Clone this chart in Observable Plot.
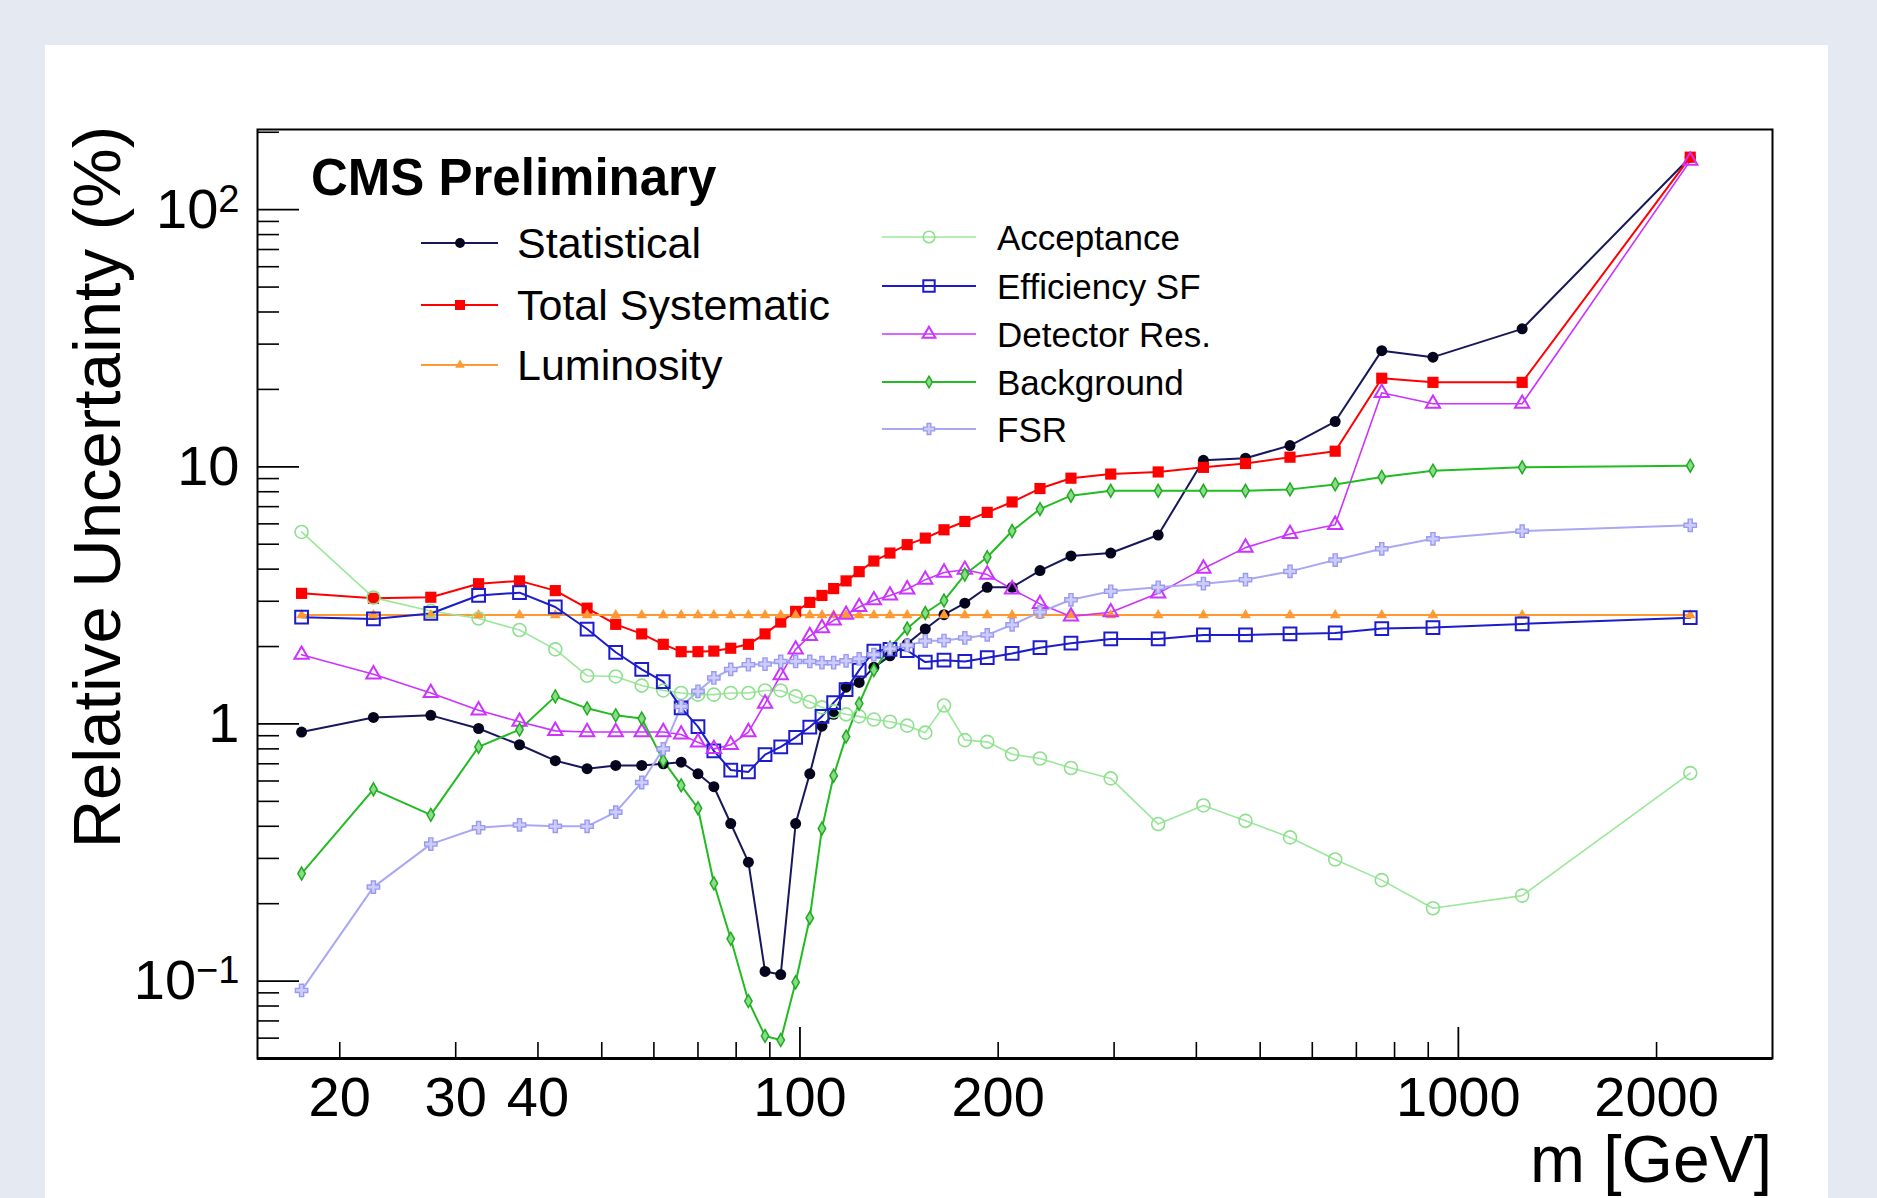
<!DOCTYPE html>
<html>
<head>
<meta charset="utf-8">
<script src="https://cdn.jsdelivr.net/npm/d3@7"></script>
<script src="https://cdn.jsdelivr.net/npm/@observablehq/plot@0.6"></script>
<style>
  html, body { margin: 0; padding: 0; width: 1877px; height: 1198px; overflow: hidden; background: #e4e9f2; }
  #card { position: absolute; left: 45px; top: 45px; width: 1783px; height: 1200px; background: #ffffff; }
  #chart { position: absolute; left: 0; top: 0; }
  #overlay { position: absolute; left: 0; top: 0; }
</style>
</head>
<body>
<div id="card"></div>
<div id="chart"></div>
<svg id="overlay" width="1877" height="1198"></svg>
<script>
// ---------------- data ----------------
const mass = [17.5, 22.5, 27.5, 32.5, 37.5, 42.5, 47.5, 52.5, 57.5, 62, 66, 70, 74, 78.5, 83.5, 88.5, 93.5, 98.5, 103.5, 108, 112.5, 117.5, 123, 129.5, 137, 145.5, 155, 165.5, 178, 192.5, 210, 231.5, 258, 296.5, 350, 410, 475, 555, 650, 765, 915, 1250, 2250];

const statistical = [0.93, 1.06, 1.08, 0.96, 0.83, 0.72, 0.67, 0.69, 0.69, 0.70, 0.71, 0.64, 0.57, 0.41, 0.29, 0.109, 0.106, 0.41, 0.64, 0.98, 1.09, 1.39, 1.45, 1.66, 1.84, 2.05, 2.34, 2.66, 2.95, 3.40, 3.40, 3.95, 4.50, 4.62, 5.43, 10.6, 10.8, 12.1, 15.0, 28.3, 26.7, 34.4, 160];
const totalSystematic = [3.22, 3.08, 3.11, 3.51, 3.60, 3.30, 2.82, 2.44, 2.24, 2.04, 1.91, 1.91, 1.92, 1.97, 2.04, 2.24, 2.49, 2.74, 2.97, 3.16, 3.36, 3.60, 3.91, 4.30, 4.62, 4.98, 5.28, 5.69, 6.13, 6.65, 7.30, 8.23, 9.03, 9.37, 9.55, 9.95, 10.3, 10.9, 11.5, 22.1, 21.3, 21.3, 160];
const luminosity = [2.65, 2.65, 2.65, 2.65, 2.65, 2.65, 2.65, 2.65, 2.65, 2.65, 2.65, 2.65, 2.65, 2.65, 2.65, 2.65, 2.65, 2.65, 2.65, 2.65, 2.65, 2.65, 2.65, 2.65, 2.65, 2.65, 2.65, 2.65, 2.65, 2.65, 2.65, 2.65, 2.65, 2.65, 2.65, 2.65, 2.65, 2.65, 2.65, 2.65, 2.65, 2.65, 2.65];
const acceptance = [5.58, 3.1, 2.75, 2.57, 2.32, 1.95, 1.54, 1.53, 1.41, 1.35, 1.32, 1.30, 1.30, 1.32, 1.32, 1.35, 1.35, 1.28, 1.22, 1.16, 1.12, 1.09, 1.07, 1.04, 1.02, 0.985, 0.925, 1.18, 0.865, 0.852, 0.762, 0.734, 0.674, 0.614, 0.408, 0.482, 0.42, 0.362, 0.297, 0.247, 0.192, 0.215, 0.644];
const efficiencySF = [2.60, 2.56, 2.69, 3.16, 3.24, 2.85, 2.34, 1.90, 1.63, 1.46, 1.155, 0.976, 0.786, 0.662, 0.651, 0.76, 0.814, 0.887, 0.973, 1.07, 1.21, 1.36, 1.62, 1.92, 1.95, 1.93, 1.74, 1.77, 1.75, 1.81, 1.88, 1.98, 2.06, 2.14, 2.14, 2.22, 2.22, 2.24, 2.26, 2.35, 2.37, 2.45, 2.59];
const detectorRes = [1.86, 1.56, 1.32, 1.13, 1.02, 0.94, 0.93, 0.93, 0.93, 0.93, 0.91, 0.848, 0.80, 0.83, 0.93, 1.20, 1.55, 1.95, 2.20, 2.36, 2.53, 2.66, 2.85, 3.03, 3.16, 3.34, 3.64, 3.88, 3.98, 3.81, 3.34, 2.93, 2.62, 2.72, 3.22, 4.02, 4.85, 5.48, 5.95, 19.4, 17.6, 17.6, 155];
const background = [0.262, 0.557, 0.443, 0.814, 0.95, 1.28, 1.15, 1.08, 1.05, 0.72, 0.577, 0.47, 0.24, 0.146, 0.0836, 0.0612, 0.059, 0.099, 0.176, 0.392, 0.629, 0.893, 1.20, 1.62, 1.98, 2.35, 2.70, 3.02, 3.81, 4.45, 5.63, 6.85, 7.72, 8.07, 8.07, 8.07, 8.07, 8.17, 8.54, 9.13, 9.66, 9.96, 10.1];
const fsr = [0.092, 0.232, 0.341, 0.395, 0.405, 0.40, 0.40, 0.454, 0.592, 0.80, 1.17, 1.34, 1.51, 1.63, 1.70, 1.71, 1.75, 1.75, 1.75, 1.73, 1.73, 1.76, 1.79, 1.86, 1.96, 2.02, 2.10, 2.11, 2.16, 2.22, 2.43, 2.72, 3.04, 3.28, 3.40, 3.51, 3.64, 3.92, 4.34, 4.80, 5.25, 5.62, 5.92];

const xDomain = [15, 3000];
const yDomain = [0.05, 205];
const xTickLabels = [20, 30, 40, 100, 200, 1000, 2000];
const xMajorTicks = [100, 1000];
const xMinorTicks = [20, 30, 40, 50, 60, 70, 80, 90, 200, 300, 400, 500, 600, 700, 800, 900, 2000];
const yTickLabels = [0.1, 1, 10, 100];
const yMinorTicks = [0.06, 0.07, 0.08, 0.09, 0.2, 0.3, 0.4, 0.5, 0.6, 0.7, 0.8, 0.9, 2, 3, 4, 5, 6, 7, 8, 9, 20, 30, 40, 50, 60, 70, 80, 90, 200];
const yTickText = {0.1: "10^-1", 1: "1", 10: "10", 100: "10^2"};

// ---------------- styles ----------------
const series = [
  {name: "Statistical", values: statistical, line: "#17175c", lw: 2, symbol: "circle", r: 5.5, fill: "#05051e", stroke: "none", sw: 0},
  {name: "Total Systematic", values: totalSystematic, line: "#ff0000", lw: 2, symbol: "square", r: 6.3, fill: "#ff0000", stroke: "none", sw: 0},
  {name: "Luminosity", values: luminosity, line: "#ff9933", lw: 2, symbol: "triangle", r: 4, fill: "#ff9933", stroke: "none", sw: 0},
  {name: "Acceptance", values: acceptance, line: "#9be89b", lw: 1.6, symbol: "circle", r: 6.5, fill: "none", stroke: "#8ee08e", sw: 1.6},
  {name: "Efficiency SF", values: efficiencySF, line: "#1c1ccc", lw: 2, symbol: "square", r: 7.2, fill: "none", stroke: "#1c1ccc", sw: 2},
  {name: "Detector Res.", values: detectorRes, line: "#cc33ff", lw: 1.6, symbol: "triangle", r: 5.3, fill: "none", stroke: "#cc33ff", sw: 2},
  {name: "Background", values: background, line: "#22bb22", lw: 2, symbol: "diamond", r: 3.9, fill: "#88dd88", stroke: "#22aa22", sw: 1.5},
  {name: "FSR", values: fsr, line: "#a8a8f5", lw: 2, symbol: "cross", r: 5.2, fill: "#ccccff", stroke: "#9a9aee", sw: 1.4}
];

const W = 1877, H = 1198;
const mL = 257, mR = 105, mT = 129, mB = 140;
const plotW = W - mL - mR, plotH = H - mT - mB;

const marks = [];
for (const s of series) {
  const rows = mass.map((m, i) => ({m, v: s.values[i]}));
  marks.push(Plot.line(rows, {x: "m", y: "v", stroke: s.line, strokeWidth: s.lw}));
}
for (const s of series) {
  const rows = mass.map((m, i) => ({m, v: s.values[i]}));
  marks.push(Plot.dot(rows, {x: "m", y: "v", symbol: s.symbol, r: s.r, fill: s.fill, stroke: s.stroke, strokeWidth: s.sw}));
}

const chart = Plot.plot({
  width: W, height: H,
  marginLeft: mL, marginRight: mR, marginTop: mT, marginBottom: mB,
  x: {type: "log", domain: xDomain, label: null},
  y: {type: "log", domain: yDomain, label: null},
  style: {background: "transparent", fontFamily: "'Liberation Sans', Arial, Helvetica, sans-serif", color: "#000", overflow: "visible"},
  marks: [
    ...marks,
    Plot.ruleX(xMinorTicks, {x: d => d, insetTop: plotH - 16, stroke: "#000", strokeWidth: 1.6}),
    Plot.ruleX(xMajorTicks, {x: d => d, insetTop: plotH - 31, stroke: "#000", strokeWidth: 1.8}),
    Plot.ruleY(yMinorTicks, {y: d => d, insetRight: plotW - 22, stroke: "#000", strokeWidth: 1.6}),
    Plot.ruleY(yTickLabels, {y: d => d, insetRight: plotW - 42, stroke: "#000", strokeWidth: 1.8}),
    Plot.frame({stroke: "#000", strokeWidth: 2}),
    Plot.ruleY([yDomain[0]], {stroke: "#000", strokeWidth: 3}),
    Plot.axisX({ticks: xTickLabels, tickSize: 0, tickPadding: 18, fontSize: 56, label: null, tickFormat: d => String(d)}),
    Plot.axisY({ticks: yTickLabels, tickSize: 0, tickPadding: 18, fontSize: 56, label: null, tickFormat: d => yTickText[d]})
  ]
});
document.getElementById("chart").appendChild(chart);

// superscripts on y tick labels
const svgNS = "http://www.w3.org/2000/svg";
d3.select(chart).selectAll('g[aria-label="y-axis tick label"] text').each(function() {
  const t = this.textContent;
  const mm = t.match(/^10\^(.+)$/);
  if (mm) {
    this.textContent = "10";
    const ts = document.createElementNS(svgNS, "tspan");
    ts.setAttribute("dy", "-0.42em");
    ts.setAttribute("font-size", "0.68em");
    ts.textContent = mm[1].replace("-", "\u2212");
    this.appendChild(ts);
  }
});

// ---------------- overlay: titles & legend ----------------
const ov = d3.select("#overlay").style("font-family", "'Liberation Sans', Arial, Helvetica, sans-serif");

ov.append("text").attr("x", 311).attr("y", 195).attr("font-size", 51).attr("font-weight", "bold").text("CMS Preliminary");

ov.append("text").attr("transform", "translate(120,126) rotate(-90)").attr("text-anchor", "end")
  .attr("font-size", 67).text("Relative Uncertainty (%)");
ov.append("text").attr("x", 1772).attr("y", 1182).attr("text-anchor", "end").attr("font-size", 66).text("m [GeV]");

function legendEntry(s, cy, x1, x2, xm, xt, fs) {
  ov.append("line").attr("x1", x1).attr("x2", x2).attr("y1", cy).attr("y2", cy).attr("stroke", s.line).attr("stroke-width", s.lw);
  const typeMap = {circle: d3.symbolCircle, square: d3.symbolSquare, triangle: d3.symbolTriangle, diamond: d3.symbolDiamond, cross: d3.symbolCross};
  ov.append("path").attr("transform", `translate(${xm},${cy})`)
    .attr("d", d3.symbol(typeMap[s.symbol], Math.PI * s.r * s.r * 0.8)())
    .attr("fill", s.fill).attr("stroke", s.stroke === "none" ? "none" : s.stroke).attr("stroke-width", s.sw);
  ov.append("text").attr("x", xt).attr("y", cy + fs * 0.36).attr("font-size", fs).text(s.name);
}
const leftRows = [243, 305, 365];
series.slice(0, 3).forEach((s, i) => legendEntry(s, leftRows[i], 421, 498, 460, 517, 43));
const rightRows = [237, 286, 334, 382, 429];
series.slice(3).forEach((s, i) => legendEntry(s, rightRows[i], 882, 976, 929, 997, 35));
</script>
</body>
</html>
